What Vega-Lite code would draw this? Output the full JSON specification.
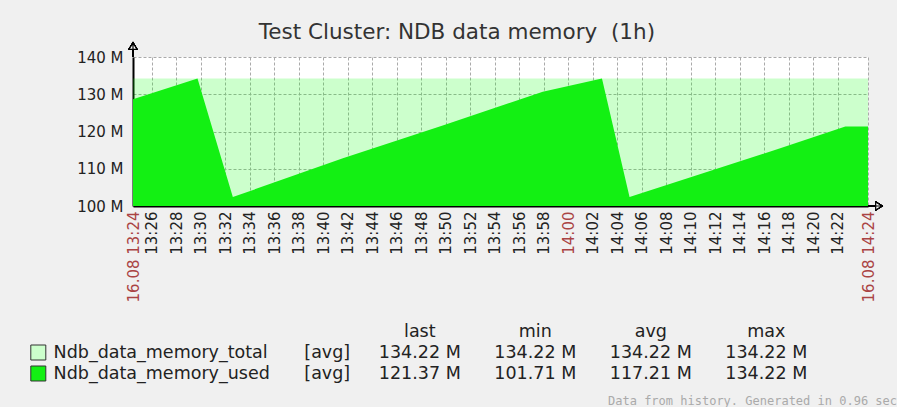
{
  "$schema": "https://vega.github.io/schema/vega-lite/v6.json",
  "background": "#f0f0f0",
  "padding": {"left": 28, "top": 22, "right": 0, "bottom": 0},
  "config": {"font": "DejaVu Sans", "view": {"stroke": null}},
  "title": {
    "text": "Test Cluster: NDB data memory \u00a0(1h)",
    "anchor": "middle",
    "frame": "bounds",
    "fontSize": 21.5,
    "fontWeight": "normal",
    "color": "#333333",
    "offset": -3,
    "dx": -6
  },
  "datasets": {
    "series": [
      {"series": "Ndb_data_memory_total", "time": "2013-08-16T13:24:27", "value": 134.22},
      {"series": "Ndb_data_memory_total", "time": "2013-08-16T14:24:27", "value": 134.22},
      {"series": "Ndb_data_memory_used", "time": "2013-08-16T13:24:27", "value": 128.65},
      {"series": "Ndb_data_memory_used", "time": "2013-08-16T13:29:43", "value": 134.22},
      {"series": "Ndb_data_memory_used", "time": "2013-08-16T13:32:36", "value": 102.4},
      {"series": "Ndb_data_memory_used", "time": "2013-08-16T13:41:35", "value": 112.8},
      {"series": "Ndb_data_memory_used", "time": "2013-08-16T13:49:44", "value": 121.6},
      {"series": "Ndb_data_memory_used", "time": "2013-08-16T13:57:54", "value": 130.7},
      {"series": "Ndb_data_memory_used", "time": "2013-08-16T14:02:44", "value": 134.22},
      {"series": "Ndb_data_memory_used", "time": "2013-08-16T14:04:59", "value": 102.4},
      {"series": "Ndb_data_memory_used", "time": "2013-08-16T14:17:17", "value": 115.5},
      {"series": "Ndb_data_memory_used", "time": "2013-08-16T14:22:36", "value": 121.37},
      {"series": "Ndb_data_memory_used", "time": "2013-08-16T14:24:27", "value": 121.37}
    ],
    "legend": [
      {"row": "header", "col": "last", "text": "last"},
      {"row": "header", "col": "min", "text": "min"},
      {"row": "header", "col": "avg", "text": "avg"},
      {"row": "header", "col": "max", "text": "max"},
      {"row": "total", "col": "swatch", "text": ""},
      {"row": "total", "col": "name", "text": "Ndb_data_memory_total"},
      {"row": "total", "col": "agg", "text": "[avg]"},
      {"row": "total", "col": "last", "text": "134.22 M"},
      {"row": "total", "col": "min", "text": "134.22 M"},
      {"row": "total", "col": "avg", "text": "134.22 M"},
      {"row": "total", "col": "max", "text": "134.22 M"},
      {"row": "used", "col": "swatch", "text": ""},
      {"row": "used", "col": "name", "text": "Ndb_data_memory_used"},
      {"row": "used", "col": "agg", "text": "[avg]"},
      {"row": "used", "col": "last", "text": "121.37 M"},
      {"row": "used", "col": "min", "text": "101.71 M"},
      {"row": "used", "col": "avg", "text": "117.21 M"},
      {"row": "used", "col": "max", "text": "134.22 M"}
    ]
  },
  "bounds": "flush",
  "spacing": 115,
  "vconcat": [
    {
      "width": 735,
      "height": 149,
      "view": {"fill": "#ffffff", "stroke": null},
      "data": {"name": "series"},
      "encoding": {
        "x": {
          "field": "time",
          "type": "temporal",
          "scale": {"domain": [
            {"year": 2013, "month": 8, "date": 16, "hours": 13, "minutes": 24, "seconds": 27},
            {"year": 2013, "month": 8, "date": 16, "hours": 14, "minutes": 24, "seconds": 27}
          ]},
          "axis": {
            "title": null,
            "values": [
              {"year": 2013, "month": 8, "date": 16, "hours": 13, "minutes": 24, "seconds": 27},
              {"year": 2013, "month": 8, "date": 16, "hours": 13, "minutes": 26},
              {"year": 2013, "month": 8, "date": 16, "hours": 13, "minutes": 28},
              {"year": 2013, "month": 8, "date": 16, "hours": 13, "minutes": 30},
              {"year": 2013, "month": 8, "date": 16, "hours": 13, "minutes": 32},
              {"year": 2013, "month": 8, "date": 16, "hours": 13, "minutes": 34},
              {"year": 2013, "month": 8, "date": 16, "hours": 13, "minutes": 36},
              {"year": 2013, "month": 8, "date": 16, "hours": 13, "minutes": 38},
              {"year": 2013, "month": 8, "date": 16, "hours": 13, "minutes": 40},
              {"year": 2013, "month": 8, "date": 16, "hours": 13, "minutes": 42},
              {"year": 2013, "month": 8, "date": 16, "hours": 13, "minutes": 44},
              {"year": 2013, "month": 8, "date": 16, "hours": 13, "minutes": 46},
              {"year": 2013, "month": 8, "date": 16, "hours": 13, "minutes": 48},
              {"year": 2013, "month": 8, "date": 16, "hours": 13, "minutes": 50},
              {"year": 2013, "month": 8, "date": 16, "hours": 13, "minutes": 52},
              {"year": 2013, "month": 8, "date": 16, "hours": 13, "minutes": 54},
              {"year": 2013, "month": 8, "date": 16, "hours": 13, "minutes": 56},
              {"year": 2013, "month": 8, "date": 16, "hours": 13, "minutes": 58},
              {"year": 2013, "month": 8, "date": 16, "hours": 14, "minutes": 0},
              {"year": 2013, "month": 8, "date": 16, "hours": 14, "minutes": 2},
              {"year": 2013, "month": 8, "date": 16, "hours": 14, "minutes": 4},
              {"year": 2013, "month": 8, "date": 16, "hours": 14, "minutes": 6},
              {"year": 2013, "month": 8, "date": 16, "hours": 14, "minutes": 8},
              {"year": 2013, "month": 8, "date": 16, "hours": 14, "minutes": 10},
              {"year": 2013, "month": 8, "date": 16, "hours": 14, "minutes": 12},
              {"year": 2013, "month": 8, "date": 16, "hours": 14, "minutes": 14},
              {"year": 2013, "month": 8, "date": 16, "hours": 14, "minutes": 16},
              {"year": 2013, "month": 8, "date": 16, "hours": 14, "minutes": 18},
              {"year": 2013, "month": 8, "date": 16, "hours": 14, "minutes": 20},
              {"year": 2013, "month": 8, "date": 16, "hours": 14, "minutes": 22},
              {"year": 2013, "month": 8, "date": 16, "hours": 14, "minutes": 24, "seconds": 27}
            ],
            "labelExpr": "seconds(datum.value) > 0 ? timeFormat(datum.value, '%d.%m %H:%M') : timeFormat(datum.value, '%H:%M')",
            "labelAngle": 270,
            "labelFontSize": 15,
            "labelColor": {
              "condition": {"test": "seconds(datum.value) > 0 || (hours(datum.value) == 14 && minutes(datum.value) == 0)", "value": "#aa4444"},
              "value": "#222222"
            },
            "labelPadding": 5,
            "labelOverlap": false,
            "labelFlush": false,
            "labelBound": false,
            "ticks": false,
            "domainColor": "#000000",
            "domainWidth": 2,
            "grid": true,
            "gridColor": "#aaaaaa",
            "gridDash": [3, 2],
            "gridWidth": 1
          }
        },
        "y": {
          "field": "value",
          "type": "quantitative",
          "scale": {"domain": [100, 140], "zero": false, "nice": false},
          "axis": {
            "title": null,
            "values": [100, 110, 120, 130, 140],
            "labelExpr": "datum.value + ' M'",
            "labelFontSize": 15,
            "labelColor": "#222222",
            "labelPadding": 10,
            "ticks": false,
            "domainColor": "#000000",
            "domainWidth": 2,
            "grid": true,
            "gridColor": "#aaaaaa",
            "gridDash": [3, 2],
            "gridWidth": 1
          }
        }
      },
      "layer": [
        {
          "transform": [{"filter": "datum.series == 'Ndb_data_memory_total'"}],
          "mark": {"type": "area", "fill": "#00ff00", "fillOpacity": 0.2, "clip": true},
          "encoding": {"y2": {"datum": 100}}
        },
        {
          "transform": [{"filter": "datum.series == 'Ndb_data_memory_used'"}],
          "mark": {"type": "area", "fill": "#13f013", "fillOpacity": 1, "clip": true},
          "encoding": {"y2": {"datum": 100}}
        },
        {
          "mark": {"type": "point", "shape": "M0,0L0,-1M-0.28,-0.55L0,-1L0.28,-0.55Z", "size": 784, "fill": "#ffffff", "stroke": "#000000", "strokeWidth": 1.2, "opacity": 1},
          "encoding": {
            "x": {"datum": {"year": 2013, "month": 8, "date": 16, "hours": 13, "minutes": 24, "seconds": 27}, "type": "temporal"},
            "y": {"datum": 140, "type": "quantitative"}
          }
        },
        {
          "mark": {"type": "point", "shape": "M0,0L1,0M0.55,-0.28L1,0L0.55,0.28Z", "size": 784, "fill": "#ffffff", "stroke": "#000000", "strokeWidth": 1.2, "opacity": 1},
          "encoding": {
            "x": {"datum": {"year": 2013, "month": 8, "date": 16, "hours": 14, "minutes": 24, "seconds": 27}, "type": "temporal"},
            "y": {"datum": 100, "type": "quantitative"}
          }
        }
      ]
    },
    {
      "width": 735,
      "height": 63,
      "data": {"name": "legend"},
      "title": {
        "text": "Data from history. Generated in 0.96 sec",
        "orient": "bottom",
        "anchor": "end",
        "frame": "group",
        "font": "DejaVu Sans Mono",
        "fontSize": 12,
        "fontWeight": "normal",
        "color": "#aaaaaa",
        "offset": 12,
        "dx": 29
      },
      "encoding": {
        "y": {"field": "row", "type": "nominal", "scale": {"type": "point", "domain": ["header", "total", "used"], "padding": 0.5}, "axis": null}
      },
      "layer": [
        {
          "transform": [{"filter": "datum.col == 'swatch' || datum.col == 'name'"}],
          "encoding": {
            "x": {"field": "col", "type": "nominal", "scale": {"type": "point", "domain": ["swatch", "name"], "range": [-94.7, -79.4], "padding": 0}, "axis": null}
          },
          "layer": [
            {
              "transform": [{"filter": "datum.col == 'swatch'"}],
              "mark": {"type": "square", "size": 225, "stroke": "#333333", "strokeWidth": 1, "opacity": 1},
              "encoding": {
                "fill": {"field": "row", "type": "nominal", "scale": {"domain": ["total", "used"], "range": ["#ccffcc", "#13f013"]}, "legend": null}
              }
            },
            {
              "transform": [{"filter": "datum.col == 'name'"}],
              "mark": {"type": "text", "align": "left", "baseline": "middle", "fontSize": 17.5, "color": "#222222"},
              "encoding": {"text": {"field": "text"}}
            }
          ]
        },
        {
          "transform": [{"filter": "datum.col == 'agg'"}],
          "mark": {"type": "text", "align": "left", "baseline": "middle", "fontSize": 17.5, "color": "#222222"},
          "encoding": {
            "x": {"field": "col", "type": "nominal", "scale": {"type": "point", "domain": ["agg", "last", "min", "avg", "max"], "range": [171.3, 633.3], "padding": 0}, "axis": null},
            "text": {"field": "text"}
          }
        },
        {
          "transform": [{"filter": "datum.col != 'agg' && datum.col != 'swatch' && datum.col != 'name'"}],
          "mark": {"type": "text", "align": "center", "baseline": "middle", "fontSize": 17.5, "color": "#222222"},
          "encoding": {
            "x": {"field": "col", "type": "nominal", "scale": {"type": "point", "domain": ["agg", "last", "min", "avg", "max"], "range": [171.3, 633.3], "padding": 0}, "axis": null},
            "text": {"field": "text"}
          }
        }
      ],
      "resolve": {"scale": {"x": "independent"}}
    }
  ]
}
